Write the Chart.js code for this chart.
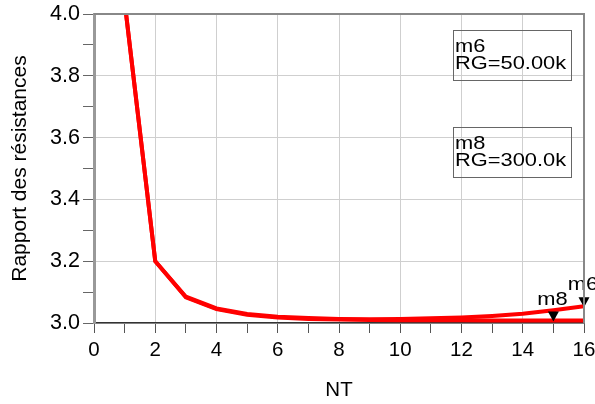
<!DOCTYPE html>
<html>
<head>
<meta charset="utf-8">
<script src="https://cdn.jsdelivr.net/npm/chart.js@4/dist/chart.umd.min.js"></script>
<style>
  body { margin: 0; background: #fff; overflow: hidden; }
</style>
</head>
<body>
<canvas id="myChart" width="595" height="404"></canvas>
<script>
// NT values on the x axis
var nt = [1, 2, 3, 4, 5, 6, 7, 8, 9, 10, 11, 12, 13, 14, 15, 16];

// Rapport des résistances, RG = 50.00k
var ratioRG50k = [4.04, 3.2, 3.085, 3.047, 3.029, 3.020, 3.016, 3.013, 3.012, 3.013, 3.015, 3.018, 3.023, 3.030, 3.041, 3.054];
// Rapport des résistances, RG = 300.0k
var ratioRG300k = [4.04, 3.2, 3.083, 3.045, 3.027, 3.018, 3.013, 3.011, 3.010, 3.009, 3.009, 3.009, 3.008, 3.008, 3.008, 3.008];

// markers
var markerNames = ['m6', 'm8'];
var markerSeries = [0, 1];
var markerNT = [16, 15];
var markerRG = ['50.00k', '300.0k'];

var FONT = '"Liberation Sans", Arial, sans-serif';
var STRETCH = 1.15; // marker text is drawn a bit wide in the original

function pts(ys) {
    return nt.map(function (x, i) { return { x: x, y: ys[i] }; });
}

function wideText(c, txt, x, y, align) {
    c.save();
    c.translate(x, y);
    c.scale(STRETCH, 1);
    c.textAlign = align;
    c.fillText(txt, 0, 0);
    c.restore();
}

// top / right frame of the plot
var framePlugin = {
    id: 'frame',
    afterDraw: function (chart) {
        var a = chart.chartArea, c = chart.ctx;
        c.save();
        c.strokeStyle = '#888';
        c.lineWidth = 2;
        c.beginPath();
        c.moveTo(a.left, a.top);
        c.lineTo(a.right, a.top);
        c.lineTo(a.right, a.bottom);
        c.stroke();
        c.restore();
    }
};

// triangles + names at the marker points
var markerPlugin = {
    id: 'markers',
    afterDatasetsDraw: function (chart) {
        var c = chart.ctx;
        c.save();
        c.font = '19px ' + FONT;
        c.textBaseline = 'alphabetic';
        for (var m = 0; m < markerNames.length; m++) {
            var meta = chart.getDatasetMeta(markerSeries[m]);
            var idx = nt.indexOf(markerNT[m]);
            var p = meta.data[idx];
            c.fillStyle = '#000';
            c.beginPath();
            c.moveTo(p.x, p.y + 1);
            c.lineTo(p.x - 5.5, p.y - 9);
            c.lineTo(p.x + 5.5, p.y - 9);
            c.closePath();
            c.fill();
            wideText(c, markerNames[m], p.x - 1, p.y - 16, 'center');
        }
        c.restore();
    }
};

// readout boxes
var boxPlugin = {
    id: 'boxes',
    afterDraw: function (chart) {
        var c = chart.ctx;
        var tops = [30, 127];
        c.save();
        c.font = '19px ' + FONT;
        c.textBaseline = 'alphabetic';
        for (var m = 0; m < markerNames.length; m++) {
            c.strokeStyle = '#666';
            c.lineWidth = 1;
            c.strokeRect(453.5, tops[m] + 0.5, 118, 50);
            c.fillStyle = '#000';
            wideText(c, markerNames[m], 455, tops[m] + 21.5, 'left');
            wideText(c, 'RG=' + markerRG[m], 455, tops[m] + 38.5, 'left');
        }
        c.restore();
    }
};

function isMajorX(v) { return Math.round(v) % 2 === 0; }
function isMajorY(v) { return Math.round(v * 10) % 2 === 0; }

var ctx = document.getElementById('myChart').getContext('2d');
var chart = new Chart(ctx, {
    type: 'line',
    data: {
        datasets: [{
            label: 'RG=50.00k',
            data: pts(ratioRG50k),
            borderColor: '#ff0000',
            borderWidth: 4,
            pointRadius: 0,
            tension: 0
        }, {
            label: 'RG=300.0k',
            data: pts(ratioRG300k),
            borderColor: '#ff0000',
            borderWidth: 4,
            pointRadius: 0,
            tension: 0
        }]
    },
    options: {
        responsive: false,
        animation: false,
        devicePixelRatio: 1,
        layout: { padding: { left: 0, top: 14, right: 11, bottom: 0 } },
        plugins: {
            legend: { display: false },
            tooltip: { enabled: false }
        },
        scales: {
            x: {
                type: 'linear',
                min: 0,
                max: 16,
                ticks: {
                    stepSize: 1,
                    autoSkip: false,
                    maxRotation: 0,
                    padding: 5,
                    color: '#000',
                    font: { size: 20.5, family: FONT },
                    callback: function (v) { return isMajorX(v) ? String(v) : ''; }
                },
                grid: {
                    color: function (c) { return isMajorX(c.tick.value) ? '#cfcfcf' : 'rgba(0,0,0,0)'; },
                    tickColor: '#555',
                    tickLength: 10,
                    lineWidth: 1
                },
                border: { color: '#333', width: 1.5 },
                title: {
                    display: true,
                    text: 'NT',
                    color: '#000',
                    font: { size: 20.5, family: FONT },
                    padding: { top: 0, bottom: 1 }
                },
                afterFit: function (s) {
                    s.height = 81;
                    s.paddingLeft = 0;
                    s.paddingRight = 0;
                }
            },
            y: {
                min: 3.0,
                max: 4.0,
                ticks: {
                    stepSize: 0.1,
                    autoSkip: false,
                    padding: 3,
                    color: '#000',
                    font: { size: 21.5, family: FONT },
                    callback: function (v) { return isMajorY(v) ? v.toFixed(1) : ''; }
                },
                grid: {
                    color: function (c) { return isMajorY(c.tick.value) ? '#cfcfcf' : 'rgba(0,0,0,0)'; },
                    tickColor: '#666',
                    tickLength: 11,
                    lineWidth: 1
                },
                border: { color: '#999', width: 3 },
                title: {
                    display: true,
                    text: 'Rapport des résistances',
                    color: '#000',
                    font: { size: 21, family: FONT },
                    padding: { top: 8, bottom: 0 }
                },
                afterFit: function (s) {
                    s.width = 94;
                    s.paddingTop = 0;
                    s.paddingBottom = 0;
                }
            }
        }
    },
    plugins: [framePlugin, markerPlugin, boxPlugin]
});
</script>
</body>
</html>
